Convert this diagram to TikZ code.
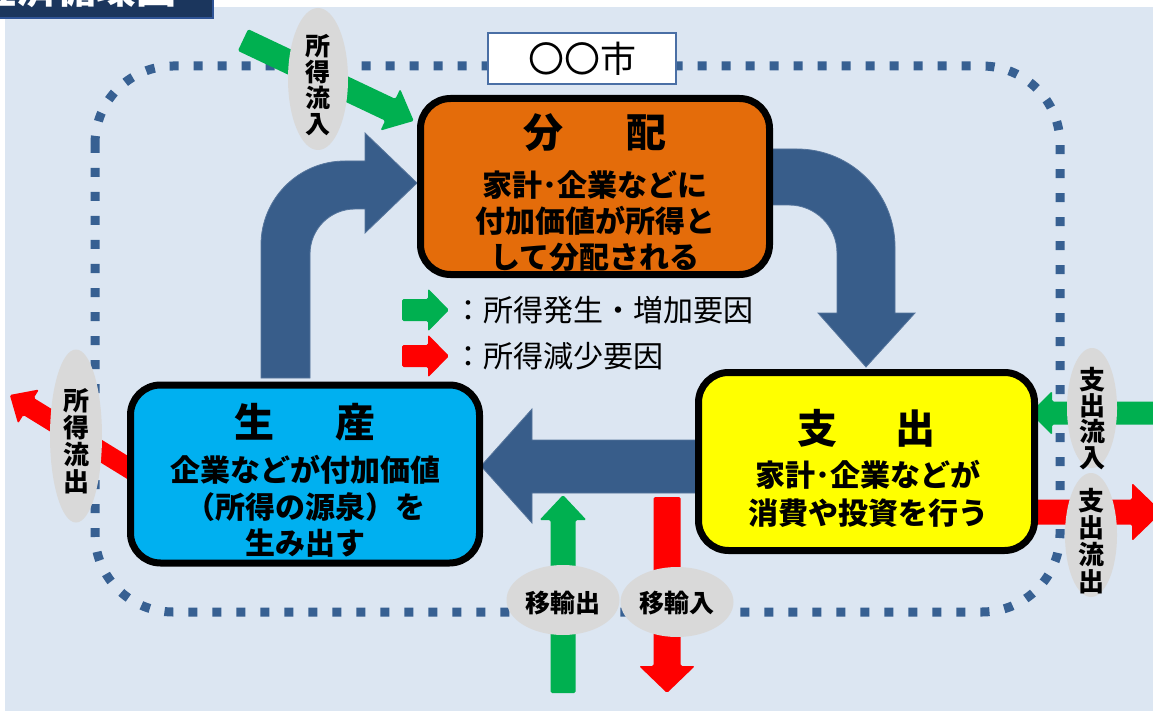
\documentclass[tikz,border=0pt]{standalone}
\usepackage{fontspec}
\setmainfont{Noto Sans CJK JP}
\usetikzlibrary{shapes.geometric}
\definecolor{panel}{HTML}{DCE6F2}
\definecolor{navy}{HTML}{1B365D}
\definecolor{navyedge}{HTML}{2F5496}
\definecolor{flowblue}{HTML}{385D8A}
\definecolor{dotblue}{HTML}{376092}
\definecolor{boxorange}{HTML}{E46C0A}
\definecolor{boxcyan}{HTML}{00B0F0}
\definecolor{boxyellow}{HTML}{FFFF00}
\definecolor{upgreen}{HTML}{00B050}
\definecolor{downred}{HTML}{FF0000}
\definecolor{bubblegray}{HTML}{D9D9D9}
\definecolor{cityedge}{HTML}{4A6FA5}
\newcommand{\fatarr}[8]{%
  \begin{scope}[shift={(#1,#2)},rotate=#3]
    \fill[#8,rounded corners=1.5pt] (0,{-#5/2}) -- ({#4-#7},{-#5/2}) -- ({#4-#7},{-#6/2}) -- (#4,0) -- ({#4-#7},{#6/2}) -- ({#4-#7},{#5/2}) -- (0,{#5/2}) -- cycle;
  \end{scope}}
\tikzset{
  mainbox/.style={draw=black, line width=7pt, rounded corners=30pt, inner sep=0pt},
  ttl/.style={font=\fontsize{40}{44}\selectfont\bfseries, inner sep=0pt},
  body/.style={align=center, inner sep=0pt},
  bubble/.style={ellipse, fill=bubblegray, draw=none, inner sep=0pt},
  vtext/.style={align=center, inner sep=0pt, font=\fontsize{24}{27}\selectfont\bfseries},
  htext/.style={inner sep=0pt, font=\fontsize{25}{28}\selectfont\bfseries},
  legtext/.style={anchor=west, inner sep=0pt, font=\fontsize{30}{34}\selectfont},
  bigflow/.style={fill=flowblue, draw=flowblue!85!white, line width=0.8pt}
}
\begin{document}
\begin{tikzpicture}[x=1pt,y=-1pt]
\useasboundingbox (0,0) rectangle (1153,711);
\fill[white] (0,0) rectangle (1153,711);
\fill[panel] (5,7) rectangle (1153,711);
% title
\begin{scope}
  \clip (0,0) rectangle (213,18);
  \fill[navy] (0,0) rectangle (213,18);
  \node[anchor=base east, inner sep=0pt, text=white, font=\fontsize{40}{44}\selectfont\bfseries] (title) at (177,4) {経済循環図};
\end{scope}
\draw[navyedge, line width=1.5pt] (0,18) -- (213,18) -- (213,0);
% dotted boundary
\draw[dotblue, line width=9pt, dash pattern=on 9pt off 15pt, rounded corners=78pt] (95,66) rectangle (1060,612);
% big flow arrows
\draw[bigflow] (261,378) -- (261,245) .. controls (261,198.6) and (298.6,161) .. (345,161) -- (365,161) -- (365,133) -- (417,183) -- (365,233) -- (365,209) -- (355,209) .. controls (330.1,209) and (310,229.1) .. (310,254) -- (310,378) -- cycle;
\draw[bigflow] (770,149) -- (797,149) .. controls (851.1,149) and (895,192.9) .. (895,247) -- (895,313) -- (915,313) -- (866,367) -- (818,313) -- (837,313) -- (837,253) .. controls (837,226.5) and (815.5,205) .. (789,205) -- (770,205) -- cycle;
\draw[bigflow] (700,440) -- (532,440) -- (532,409) -- (481,466) -- (532,523) -- (532,493) -- (700,493) -- cycle;
% coloured flow arrows
\fatarr{243}{40}{-25.35}{189}{24}{46}{26}{upgreen}
\fatarr{1160}{413}{180}{130}{23}{44}{22}{upgreen}
\fatarr{1030}{512}{0}{132}{25}{58}{30}{downred}
\fatarr{563}{693}{90}{198}{25}{47}{25}{upgreen}
\fatarr{667}{497}{-90}{196}{27}{56}{27}{downred}
\fatarr{135}{472}{148.4}{147}{20}{40}{22}{downred}
% legend
\fatarr{402}{310}{0}{47}{22}{43}{21}{upgreen}
\fatarr{402}{356}{0}{47}{22}{43}{21}{downred}
\node[legtext] (leg1) at (453,310) {：所得発生・増加要因};
\node[legtext] (leg2) at (453,356) {：所得減少要因};
% main boxes
\node[mainbox, fill=boxorange, minimum width=349pt, minimum height=176pt] (haibun) at (595,186.5) {};
\node[mainbox, fill=boxcyan, minimum width=349pt, minimum height=178pt] (seisan) at (305,474) {};
\node[mainbox, fill=boxyellow, minimum width=336pt, minimum height=178pt] (shishutsu) at (866.5,461.5) {};
\node[ttl] (haibunT) at (595,133) {分\hspace{63pt}配};
\node[body, font=\fontsize{30}{36}\selectfont\bfseries] (haibunB) at (595,221) {家計･企業などに\\付加価値が所得と\\して分配される};
\node[ttl] (seisanT) at (305,422) {生\hspace{61pt}産};
\node[body, font=\fontsize{30}{36.5}\selectfont\bfseries] (seisanB) at (305,506.5) {企業などが付加価値\\（所得の源泉）を\\生み出す};
\node[ttl] (shishutsuT) at (866,428) {支\hspace{58pt}出};
\node[body, font=\fontsize{30}{38}\selectfont\bfseries] (shishutsuB) at (868,494) {家計･企業などが\\消費や投資を行う};
% city label
\node[draw=cityedge, line width=2pt, fill=white, minimum width=188pt, minimum height=51pt, inner sep=0pt, font=\fontsize{36}{40}\selectfont] (city) at (582,59) {〇〇市};
% bubbles
\node[bubble, minimum width=60pt, minimum height=142pt] (b1) at (318,79) {};
\node[vtext, font=\fontsize{25}{26}\selectfont\bfseries] (b1t) at (318,85) {所\\得\\流\\入};
\node[bubble, minimum width=52pt, minimum height=173pt] (b2) at (76,436) {};
\node[vtext, font=\fontsize{26}{27}\selectfont\bfseries] (b2t) at (76,441) {所\\得\\流\\出};
\node[bubble, minimum width=50pt, minimum height=120pt] (b3) at (1092,408) {};
\node[vtext, font=\fontsize{26}{26}\selectfont\bfseries] (b3t) at (1092,419) {支\\出\\流\\入};
\node[bubble, minimum width=52pt, minimum height=124pt] (b4) at (1091,535) {};
\node[vtext, font=\fontsize{26}{27}\selectfont\bfseries] (b4t) at (1091,541) {支\\出\\流\\出};
\node[bubble, minimum width=113pt, minimum height=70pt] (b5) at (563,600) {};
\node[htext] (b5t) at (563,603) {移輸出};
\node[bubble, minimum width=113pt, minimum height=70pt] (b6) at (677,602) {};
\node[htext] (b6t) at (677,603) {移輸入};
\end{tikzpicture}
\end{document}
